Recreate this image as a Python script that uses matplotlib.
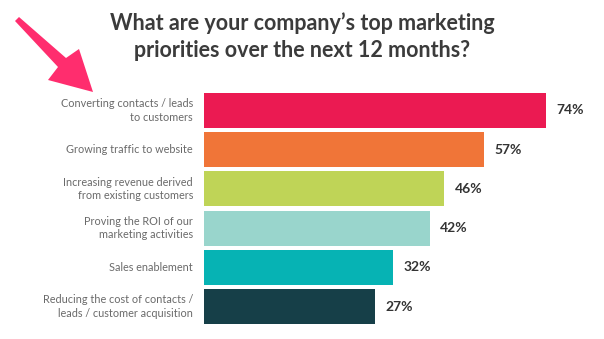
import matplotlib.pyplot as plt
from matplotlib.patches import Polygon

plt.rcParams['font.family'] = ['Lato', 'DejaVu Sans']

# data
categories = [
    "Converting contacts / leads\nto customers",
    "Growing traffic to website",
    "Increasing revenue derived\nfrom existing customers",
    "Proving the ROI of our\nmarketing activities",
    "Sales enablement",
    "Reducing the cost of contacts /\nleads / customer acquisition",
]
values = [74, 57, 46, 42, 32, 27]
colors = ["#EB1A52", "#F07538", "#BFD457", "#99D5CC", "#06B3B4", "#163F48"]

title = "What are your company\u2019s top marketing\npriorities over the next 12 months?"

bar_start = -20  # bars are drawn from a little left of zero, like the original

fig = plt.figure(figsize=(6.04, 3.39), dpi=100)
ax = fig.add_axes([204 / 604, 0.038, 400 / 604, 0.694])

y = list(range(len(values)))
widths = [v - bar_start for v in values]
ax.barh(y, widths, left=bar_start, height=0.89, color=colors)

ax.set_xlim(bar_start, 89.9)
ax.set_ylim(5.5, -0.5)
ax.axis('off')

for yi, v, lab in zip(y, values, categories):
    ax.annotate(f"{v}%", (v, yi), xytext=(7.5, 0), textcoords='offset points',
                ha='left', va='center', fontsize=10, fontweight='bold', color='#333333')
    ax.annotate(lab, (bar_start, yi), xytext=(-8, 0), textcoords='offset points',
                ha='right', va='center', fontsize=7.8, color='#6a6a6a', linespacing=1.3)

fig.text(0.5, 0.965, title, ha='center', va='top', fontsize=15.5, fontweight='bold',
         color='#3b3b3b', linespacing=1.4)

# pink arrow pointing at the top row (pixel outline, y measured from the top)
arrow_px = [(15, 21), (19, 17), (66, 58), (79, 49), (93, 92), (48, 80), (58, 67)]
arrow = Polygon([(px / 604, 1 - py / 339) for px, py in arrow_px], closed=True,
                transform=fig.transFigure, facecolor='#FF2D6E', edgecolor='none')
fig.patches.append(arrow)

fig.savefig("out.png", dpi=100)
